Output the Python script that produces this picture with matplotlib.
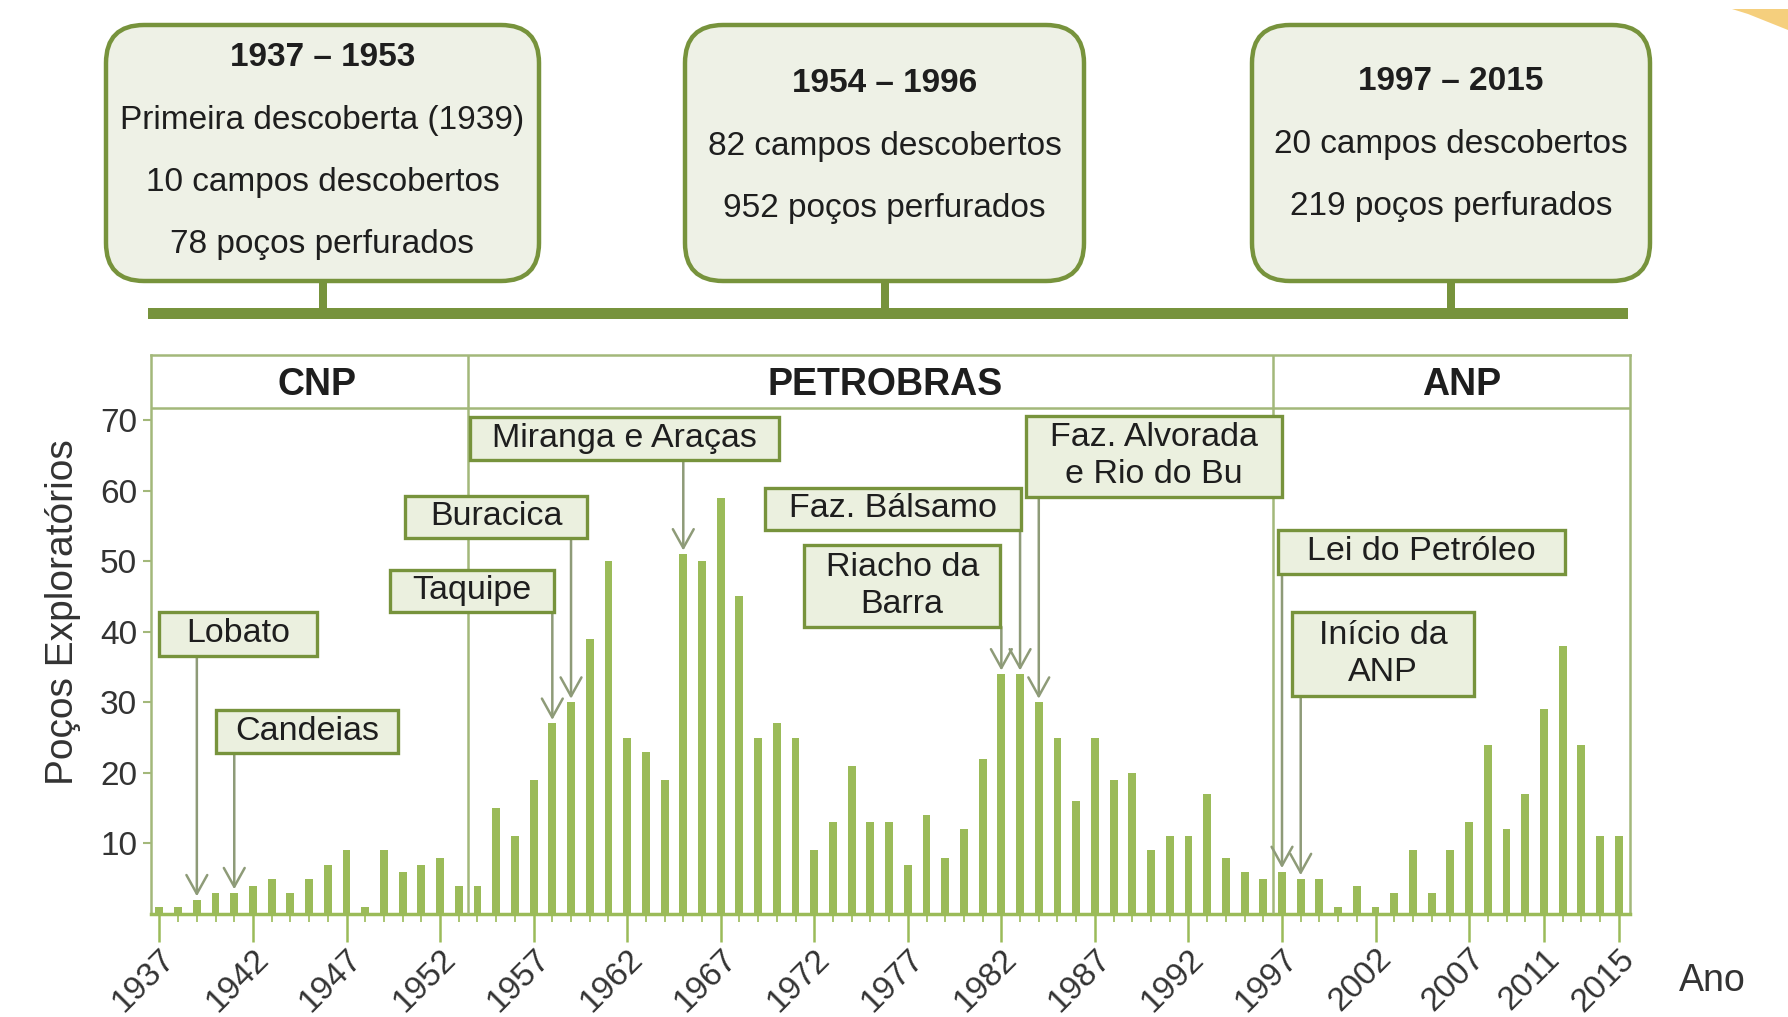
import matplotlib
matplotlib.use('Agg')
import matplotlib.pyplot as plt
from matplotlib.patches import Rectangle, FancyBboxPatch, Polygon

plt.rcParams['font.family'] = ['Liberation Sans', 'DejaVu Sans']

# Poços exploratórios por ano
anos = list(range(1937, 2016))
pocos = [1, 1, 2, 3, 3, 4, 5, 3, 5, 7, 9, 1, 9, 6, 7, 8, 4,
         4, 15, 11, 19, 27, 30, 39, 50, 25, 23, 19, 51, 50, 59, 45, 25, 27, 25, 9, 13,
         21, 13, 13, 7, 14, 8, 12, 22, 34, 34, 30, 25, 16, 25, 19, 20, 9, 11, 11, 17, 8, 6, 5,
         6, 5, 5, 1, 4, 1, 3, 9, 3, 9, 13, 24, 12, 17, 29, 38, 24, 11, 11]

xticks = [1937, 1942, 1947, 1952, 1957, 1962, 1967, 1972, 1977, 1982, 1987,
          1992, 1997, 2002, 2007, 2011, 2015]
yticks = [10, 20, 30, 40, 50, 60, 70]

# periodos (cabecalho)
periodos = ['CNP', 'PETROBRAS', 'ANP']
limites = [1936.55, 1953.5, 1996.5, 2015.6]
periodos_x = [1945.4, 1975.8, 2006.6]

# marcos (descobertas / eventos)
marcos = ['Lobato', 'Candeias', 'Taquipe', 'Buracica', 'Miranga e Araças',
          'Faz. Bálsamo', 'Riacho da\nBarra', 'Faz. Alvorada\ne Rio do Bu',
          'Lei do Petróleo', 'Início da\nANP']
marco_anos = [1939, 1941, 1958, 1959, 1965, 1983, 1982, 1984, 1997, 1998]
# caixa: centro x, centro y, largura, altura (unidades dos dados)
marco_caixas = [(1941.2, 39.7, 8.4, 6.2), (1944.9, 25.85, 9.7, 6.1),
                (1953.7, 45.8, 8.8, 5.9), (1955.0, 56.25, 9.7, 5.9),
                (1961.85, 67.35, 16.5, 6.1), (1976.2, 57.4, 13.7, 6.0),
                (1976.7, 46.5, 10.5, 11.6), (1990.15, 64.85, 13.7, 11.5),
                (2004.45, 51.3, 15.3, 6.2), (2002.4, 36.85, 9.7, 11.9)]

# caixas superiores
resumo_titulos = ['1937 – 1953', '1954 – 1996', '1997 – 2015']
resumo_linhas = [['Primeira descoberta (1939)', '10 campos descobertos', '78 poços perfurados'],
                 ['82 campos descobertos', '952 poços perfurados'],
                 ['20 campos descobertos', '219 poços perfurados']]

verde_barra = '#9BBB59'
verde_borda = '#77933C'
verde_fundo = '#EBF0DF'
verde_linha = '#A3B87A'
cinza_seta = '#8E9B78'
texto = '#1E1E1E'

fig = plt.figure(figsize=(17.88, 10.17), dpi=100)
fig.patch.set_facecolor('white')

# overlay in pixel coords for the top part
ov = fig.add_axes([0, 0, 1, 1])
ov.set_xlim(0, 1788)
ov.set_ylim(1017, 0)
ov.axis('off')

ax = fig.add_axes([151 / 1788, 103 / 1017, 1479 / 1788, 559 / 1017])
ax.set_xlim(limites[0], limites[-1])
ax.set_ylim(0, 79.2)
ax.bar(anos, pocos, width=0.42, color=verde_barra, zorder=2)

for s in ax.spines.values():
    s.set_color(verde_linha)
    s.set_linewidth(1.8)
ax.spines['bottom'].set_color(verde_barra)
ax.spines['bottom'].set_linewidth(2.5)

ax.set_yticks(yticks)
ax.set_xticks(xticks)
ax.set_xticks(anos, minor=True)
ax.tick_params(axis='y', length=6, width=1.5, color=verde_linha, labelsize=24,
               labelcolor='#333333', pad=4)
ax.tick_params(axis='x', which='major', length=20, width=1.8, color=verde_barra,
               labelsize=24, labelcolor='#333333', pad=1)
ax.tick_params(axis='x', which='minor', length=6, width=1.2, color=verde_barra)
for lab in ax.get_xticklabels():
    lab.set_rotation(45)
    lab.set_ha('right')
    lab.set_va('top')
    lab.set_rotation_mode('anchor')

ax.set_ylabel('Poços Exploratórios', fontsize=28, color='#333333')
ax.yaxis.set_label_coords(-0.047, 0.54)

# cabecalho dos periodos
ax.axhline(71.7, color=verde_linha, lw=1.8, zorder=3)
for lim in limites[1:-1]:
    ax.axvline(lim, color=verde_linha, lw=1.8, zorder=3)
for nome, px in zip(periodos, periodos_x):
    ax.text(px, 74.9, nome, ha='center', va='center',
            fontsize=27, fontweight='bold', color=texto)

# marcos com setas
for nome, ano, (cx, cy, w, h) in zip(marcos, marco_anos, marco_caixas):
    ax.add_patch(Rectangle((cx - w / 2, cy - h / 2), w, h, facecolor=verde_fundo,
                           edgecolor=verde_borda, lw=2.4, zorder=5))
    ax.text(cx, cy, nome, ha='center', va='center', fontsize=24.5, color=texto,
            zorder=6, linespacing=1.25)
    valor = pocos[anos.index(ano)]
    ax.annotate('', xy=(ano, valor + 0.5), xytext=(ano, cy - h / 2),
                arrowprops=dict(arrowstyle='->,head_length=0.45,head_width=0.25',
                                color=cinza_seta, lw=1.8, mutation_scale=30,
                                shrinkA=0, shrinkB=0), zorder=4)

# caixas superiores e linha do tempo
caixas_x = [(106, 539), (685, 1084), (1252, 1650)]
titulo_y = [57, 83, 81]
ov.add_patch(Rectangle((148, 308), 1480, 11, facecolor=verde_borda, edgecolor='none'))
for (x0, x1), tit, linhas, ty in zip(caixas_x, resumo_titulos, resumo_linhas, titulo_y):
    ov.add_patch(FancyBboxPatch((x0, 25), x1 - x0, 256,
                                boxstyle='round,pad=0,rounding_size=38',
                                facecolor='#EEF1E6', edgecolor=verde_borda, lw=3.2))
    xc = (x0 + x1) / 2
    ov.add_patch(Rectangle((xc - 4, 281), 8, 28, facecolor=verde_borda, edgecolor='none'))
    ov.text(xc, ty, tit, ha='center', va='center', fontsize=24, fontweight='bold', color=texto)
    for k, ln in enumerate(linhas):
        ov.text(xc, ty + 63 + 62 * k, ln, ha='center', va='center', fontsize=24, color=texto)

ov.text(1712, 981, 'Ano', ha='center', va='center', fontsize=27, color='#333333')

# detalhe decorativo no canto
ov.add_patch(Polygon([(1732, 9), (1788, 9), (1788, 30), (1768, 22), (1748, 14)],
                     closed=True, facecolor='#F4C766', edgecolor='none', alpha=0.85))

fig.savefig('out.png', dpi=100)
